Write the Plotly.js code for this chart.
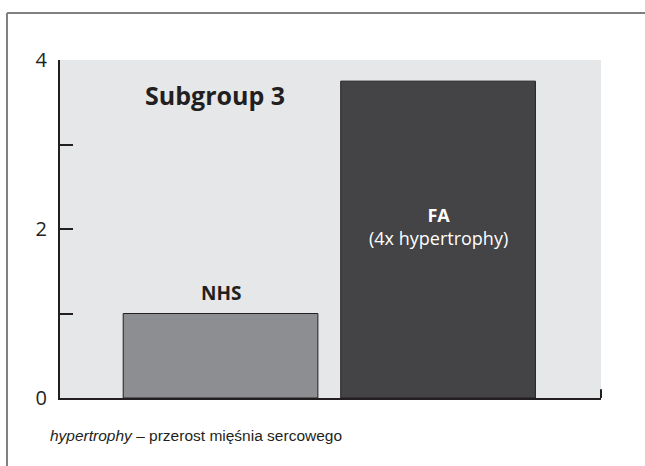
<!DOCTYPE html>
<html>
<head>
<meta charset="utf-8">
<script src="https://cdn.plot.ly/plotly-3.0.1.min.js"></script>
<style>html,body{margin:0;padding:0;background:#fff;}#chart{width:645px;height:466px;}</style>
</head>
<body>
<div id="chart"></div>
<script>
const groups = ["NHS", "FA"];
const groupPos = [0, 1];
const values = [1.0, 3.75];
const barColors = ["#8d8e91", "#444446"];
const yTickVals = [0, 1, 2, 3, 4];
const yTickText = ["0", "", "2", "", "4"];
const panelTitle = "Subgroup 3";
const faSubLabel = "(4x hypertrophy)";
const footnoteItalic = "hypertrophy";
const footnoteRest = " – przerost mięśnia sercowego";

const sans = "Open Sans, Noto Sans, sans-serif";
const ink = "#231f20";

const trace = {
  type: "bar",
  x: groupPos,
  y: values,
  width: 0.895,
  marker: { color: barColors, line: { color: ink, width: 1 } },
  hoverinfo: "skip"
};

const layout = {
  width: 645, height: 466,
  margin: { l: 60, r: 44, t: 60, b: 68 },
  paper_bgcolor: "#ffffff",
  plot_bgcolor: "#e6e7e8",
  showlegend: false,
  xaxis: {
    range: [-0.738, 1.749],
    showgrid: false, zeroline: false,
    showticklabels: false, ticks: "",
    showline: true, linecolor: ink, linewidth: 2,
    fixedrange: true
  },
  yaxis: {
    range: [0, 4],
    tickvals: yTickVals, ticktext: yTickText,
    ticks: "inside", ticklen: 13, tickwidth: 2, tickcolor: ink,
    showgrid: false, zeroline: false,
    showline: true, linecolor: ink, linewidth: 2,
    tickfont: { family: sans, size: 20, color: ink },
    ticklabelstandoff: 7,
    fixedrange: true
  },
  shapes: [
    { type: "line", xref: "paper", yref: "paper", x0: 1, x1: 1, y0: 0, y1: 0.026,
      line: { color: ink, width: 2 } },
    { type: "line", xref: "paper", yref: "paper", x0: -0.098, x1: 1.1, y0: 1.139, y1: 1.139,
      line: { color: "#808080", width: 2 } },
    { type: "line", xref: "paper", yref: "paper", x0: -0.098, x1: -0.098, y0: 1.139, y1: -0.25,
      line: { color: "#808080", width: 2 } }
  ],
  annotations: [
    { xref: "paper", yref: "paper", x: 0.2865, y: 0.896, text: "<b>" + panelTitle + "</b>",
      showarrow: false, font: { family: sans, size: 25, color: ink }, xanchor: "center", yanchor: "middle" },
    { xref: "x", yref: "y", x: groupPos[0], y: values[0], yshift: 21, text: "<b>" + groups[0] + "</b>",
      showarrow: false, font: { family: sans, size: 19, color: ink }, xanchor: "center", yanchor: "middle" },
    { xref: "x", yref: "y", x: groupPos[1], y: 2.03, text: "<b>" + groups[1] + "</b><br>" + faSubLabel,
      showarrow: false, font: { family: sans, size: 18, color: "#ffffff" }, xanchor: "center", yanchor: "middle" },
    { xref: "paper", yref: "paper", x: -0.022, y: -0.11, text: "<i>" + footnoteItalic + "</i>" + footnoteRest,
      showarrow: false, font: { family: "Liberation Sans, Arial, sans-serif", size: 15.5, color: ink },
      xanchor: "left", yanchor: "middle" }
  ]
};

Plotly.newPlot("chart", [trace], layout, { displayModeBar: false, staticPlot: true });
</script>
</body>
</html>
